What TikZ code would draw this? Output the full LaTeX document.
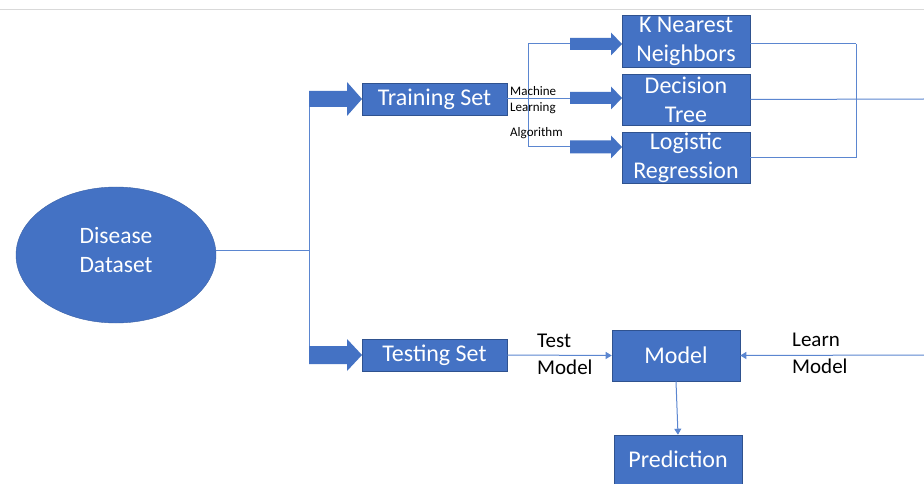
\documentclass[tikz,border=0pt]{standalone}
\usepackage{fontspec}
\setmainfont{Carlito}
\usetikzlibrary{arrows.meta,shapes.geometric,calc}
\definecolor{obl}{HTML}{4472C4}
\definecolor{obd}{HTML}{2F528F}
\definecolor{lnc}{HTML}{5B86D0}
\tikzset{
  boxn/.style={rectangle,fill=obl,draw=obd,line width=0.6pt,text=white,font=\fontsize{24}{29}\selectfont,align=center,inner sep=0pt},
  conn/.style={draw=lnc,line width=1pt},
  lbl/.style={font=\fontsize{21}{27}\selectfont,align=left,anchor=north west,inner sep=0pt},
  small/.style={font=\fontsize{13}{15}\selectfont,anchor=west,inner sep=0pt},
  blk/.style={fill=obl},
}
% block arrow: x start, x head start, x tip, y, shaft half, head half
\newcommand{\blockarr}[6]{\fill[blk] (#1,#4-#5) -- (#2,#4-#5) -- (#2,#4-#6) -- (#3,#4) -- (#2,#4+#6) -- (#2,#4+#5) -- (#1,#4+#5) -- cycle;}
\begin{document}
\begin{tikzpicture}[x=1pt,y=-1pt]
\useasboundingbox (0,0) rectangle (924,484);
\fill[white] (0,0) rectangle (924,484);
\draw[draw=black!15,line width=0.8pt] (0,9) -- (924,9);

% ellipse
\node[ellipse,fill=obl,draw=obl!85!black,line width=0.4pt,minimum width=200pt,minimum height=136pt,inner sep=0pt,
  label={[text=white,font=\fontsize{23.5}{29}\selectfont,align=center,yshift=5pt]center:Disease\\Dataset}] (ds) at (116,255) {};

% boxes
\node[boxn,minimum width=145pt,minimum height=32pt] (train) at (434.5,99) {Training Set};
\node[boxn,minimum width=145pt,minimum height=32pt] (test) at (434.5,355) {Testing Set};
\node[boxn,minimum width=128pt,minimum height=52pt] (knn) at (686,41) {K Nearest\\Neighbors};
\node[boxn,minimum width=128pt,minimum height=51pt] (dt) at (686,99.5) {Decision\\Tree};
\node[boxn,minimum width=128pt,minimum height=51pt] (lr) at (686,157.5) {Logistic\\Regression};
\node[boxn,minimum width=128pt,minimum height=51pt] (model) at (676,355.5) {Model};
\node[boxn,minimum width=128pt,minimum height=49pt] (pred) at (678,459.5) {Prediction};

% coordinates
\coordinate (sp) at (309,250);
\coordinate (spt) at (309,99);
\coordinate (spb) at (309,355);
\coordinate (mlt) at (528,44);
\coordinate (mlb) at (528,147);
\coordinate (rvt) at (856,44);
\coordinate (rvb) at (856,158);
\coordinate (redge) at (924,99);
\coordinate (redge2) at (924,355);

% connectors
\draw[conn] (ds.east |- sp) -- (sp);
\draw[conn] (spt) -- (spb);
\draw[conn] (train.east) -- (570,99);
\draw[conn] (mlt) -- (mlb);
\draw[conn] (mlt) -- (570,44);
\draw[conn] (mlb) -- (570,147);
\draw[conn] (knn.east |- rvt) -- (rvt);
\draw[conn] (lr.east |- rvb) -- (rvb);
\draw[conn] (rvt) -- (rvb);
\draw[conn] (dt.east) -- (redge);
\draw[conn,-{Triangle[width=7pt,length=6pt]}] (test.east) -- (model.west);
\draw[conn,-{Triangle[width=7pt,length=6pt]}] (redge2) -- (model.east);
\draw[conn,-{Triangle[width=7pt,length=6pt]}] (model.south) -- (pred.north);

% block arrows
\blockarr{309}{347}{362}{99}{8}{17}
\blockarr{309}{347}{362}{355}{9}{16}
\blockarr{570}{611}{622}{44}{6}{11.5}
\blockarr{570}{611}{622}{98}{6}{11.5}
\blockarr{570}{611}{622}{147}{6.5}{11.5}

% labels
\node[small] (l1) at (510,91) {Machine};
\node[small] (l2) at (510,108) {Learning};
\node[small] (l3) at (510,133) {Algorithm};
\node[lbl] (tm) at (537,334) {Test\\Model};
\node[lbl] (lm) at (792,333) {Learn\\Model};
\end{tikzpicture}
\end{document}
